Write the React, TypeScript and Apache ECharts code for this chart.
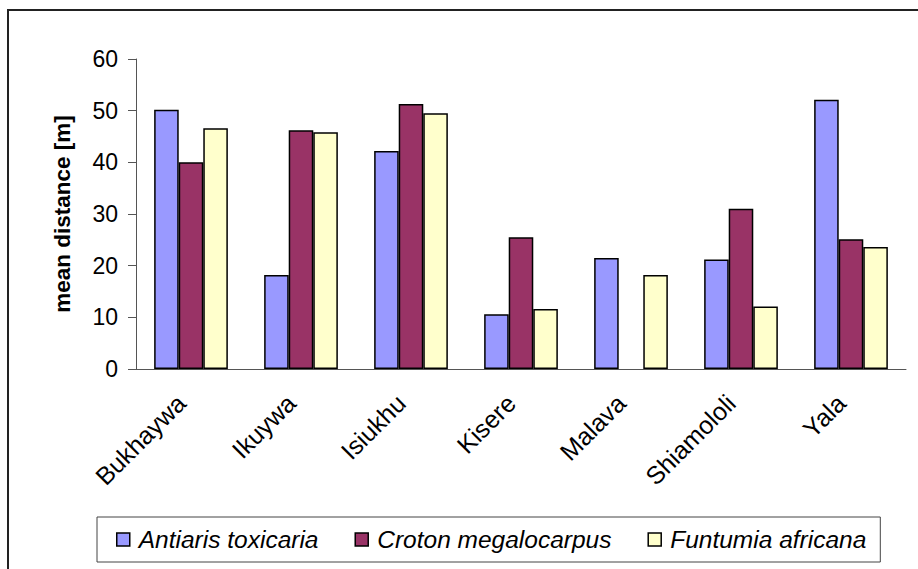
import React, { useEffect, useRef } from "react";
import * as echarts from "echarts";

const categories = ["Bukhaywa", "Ikuywa", "Isiukhu", "Kisere", "Malava", "Shiamololi", "Yala"];
const antiaris = [50.2, 18.2, 42.2, 10.6, 21.5, 21.2, 52.1];
const croton = [40.0, 46.2, 51.3, 25.5, null, 31.0, 25.1];
const funtumia = [46.6, 45.8, 49.5, 11.6, 18.2, 12.1, 23.6];
const seriesNames = ["Antiaris toxicaria", "Croton megalocarpus", "Funtumia africana"];
const colors = ["#9999FF", "#993366", "#FFFFCC"];

const FONT = "'Liberation Sans', Arial, sans-serif";

export default function App() {
  const ref = useRef<HTMLDivElement>(null);
  useEffect(() => {
    if (!ref.current) return;
    const chart = echarts.init(ref.current, null, { renderer: "svg" });
    const data = [antiaris, croton, funtumia];
    chart.setOption({
      animation: false,
      backgroundColor: "#ffffff",
      textStyle: { fontFamily: FONT },
      graphic: [
        {
          type: "rect",
          shape: { x: 8, y: 10, width: 940, height: 620 },
          style: { fill: "none", stroke: "#222", lineWidth: 2 },
          silent: true,
        },
      ],
      grid: { left: 136, right: 12, top: 59, bottom: 200, containLabel: false },
      xAxis: {
        type: "category",
        data: categories,
        axisLine: { lineStyle: { color: "#555", width: 1 } },
        axisTick: { length: 7, lineStyle: { color: "#555" } },
        axisLabel: {
          rotate: 45,
          interval: 0,
          margin: 20,
          padding: [0, 14, 0, 0],
          color: "#000",
          fontSize: 25,
          fontFamily: FONT,
        },
      },
      yAxis: {
        type: "value",
        min: 0,
        max: 60,
        interval: 10,
        name: "mean distance [m]",
        nameLocation: "middle",
        nameGap: 62,
        nameTextStyle: { fontSize: 22.5, fontWeight: "bold", color: "#000", fontFamily: FONT },
        axisLine: { show: true, lineStyle: { color: "#555", width: 1 } },
        axisTick: { show: true, length: 8, lineStyle: { color: "#555" } },
        splitLine: { show: false },
        axisLabel: { margin: 18, color: "#000", fontSize: 23, fontFamily: FONT },
      },
      legend: {
        left: 97,
        top: 517,
        itemWidth: 13,
        itemHeight: 13,
        itemGap: 36,
        padding: [10, 14, 10, 19],
        borderColor: "#444",
        borderWidth: 1,
        icon: "rect",
        textStyle: { fontSize: 24.5, fontStyle: "italic", color: "#000", fontFamily: FONT, padding: [0, 0, 0, 4] },
        data: seriesNames.map((n, i) => ({
          name: n,
          itemStyle: { color: colors[i], borderColor: "#000", borderWidth: 1.5 },
        })),
      },
      series: seriesNames.map((n, i) => ({
        name: n,
        type: "bar",
        data: data[i],
        barGap: "0%",
        barCategoryGap: "33%",
        itemStyle: { color: colors[i], borderColor: "#000", borderWidth: 1.5 },
      })),
    });
    return () => chart.dispose();
  }, []);
  return (
    <div
      ref={ref}
      style={{ position: "fixed", left: 0, top: 0, width: 918, height: 569 }}
    />
  );
}
